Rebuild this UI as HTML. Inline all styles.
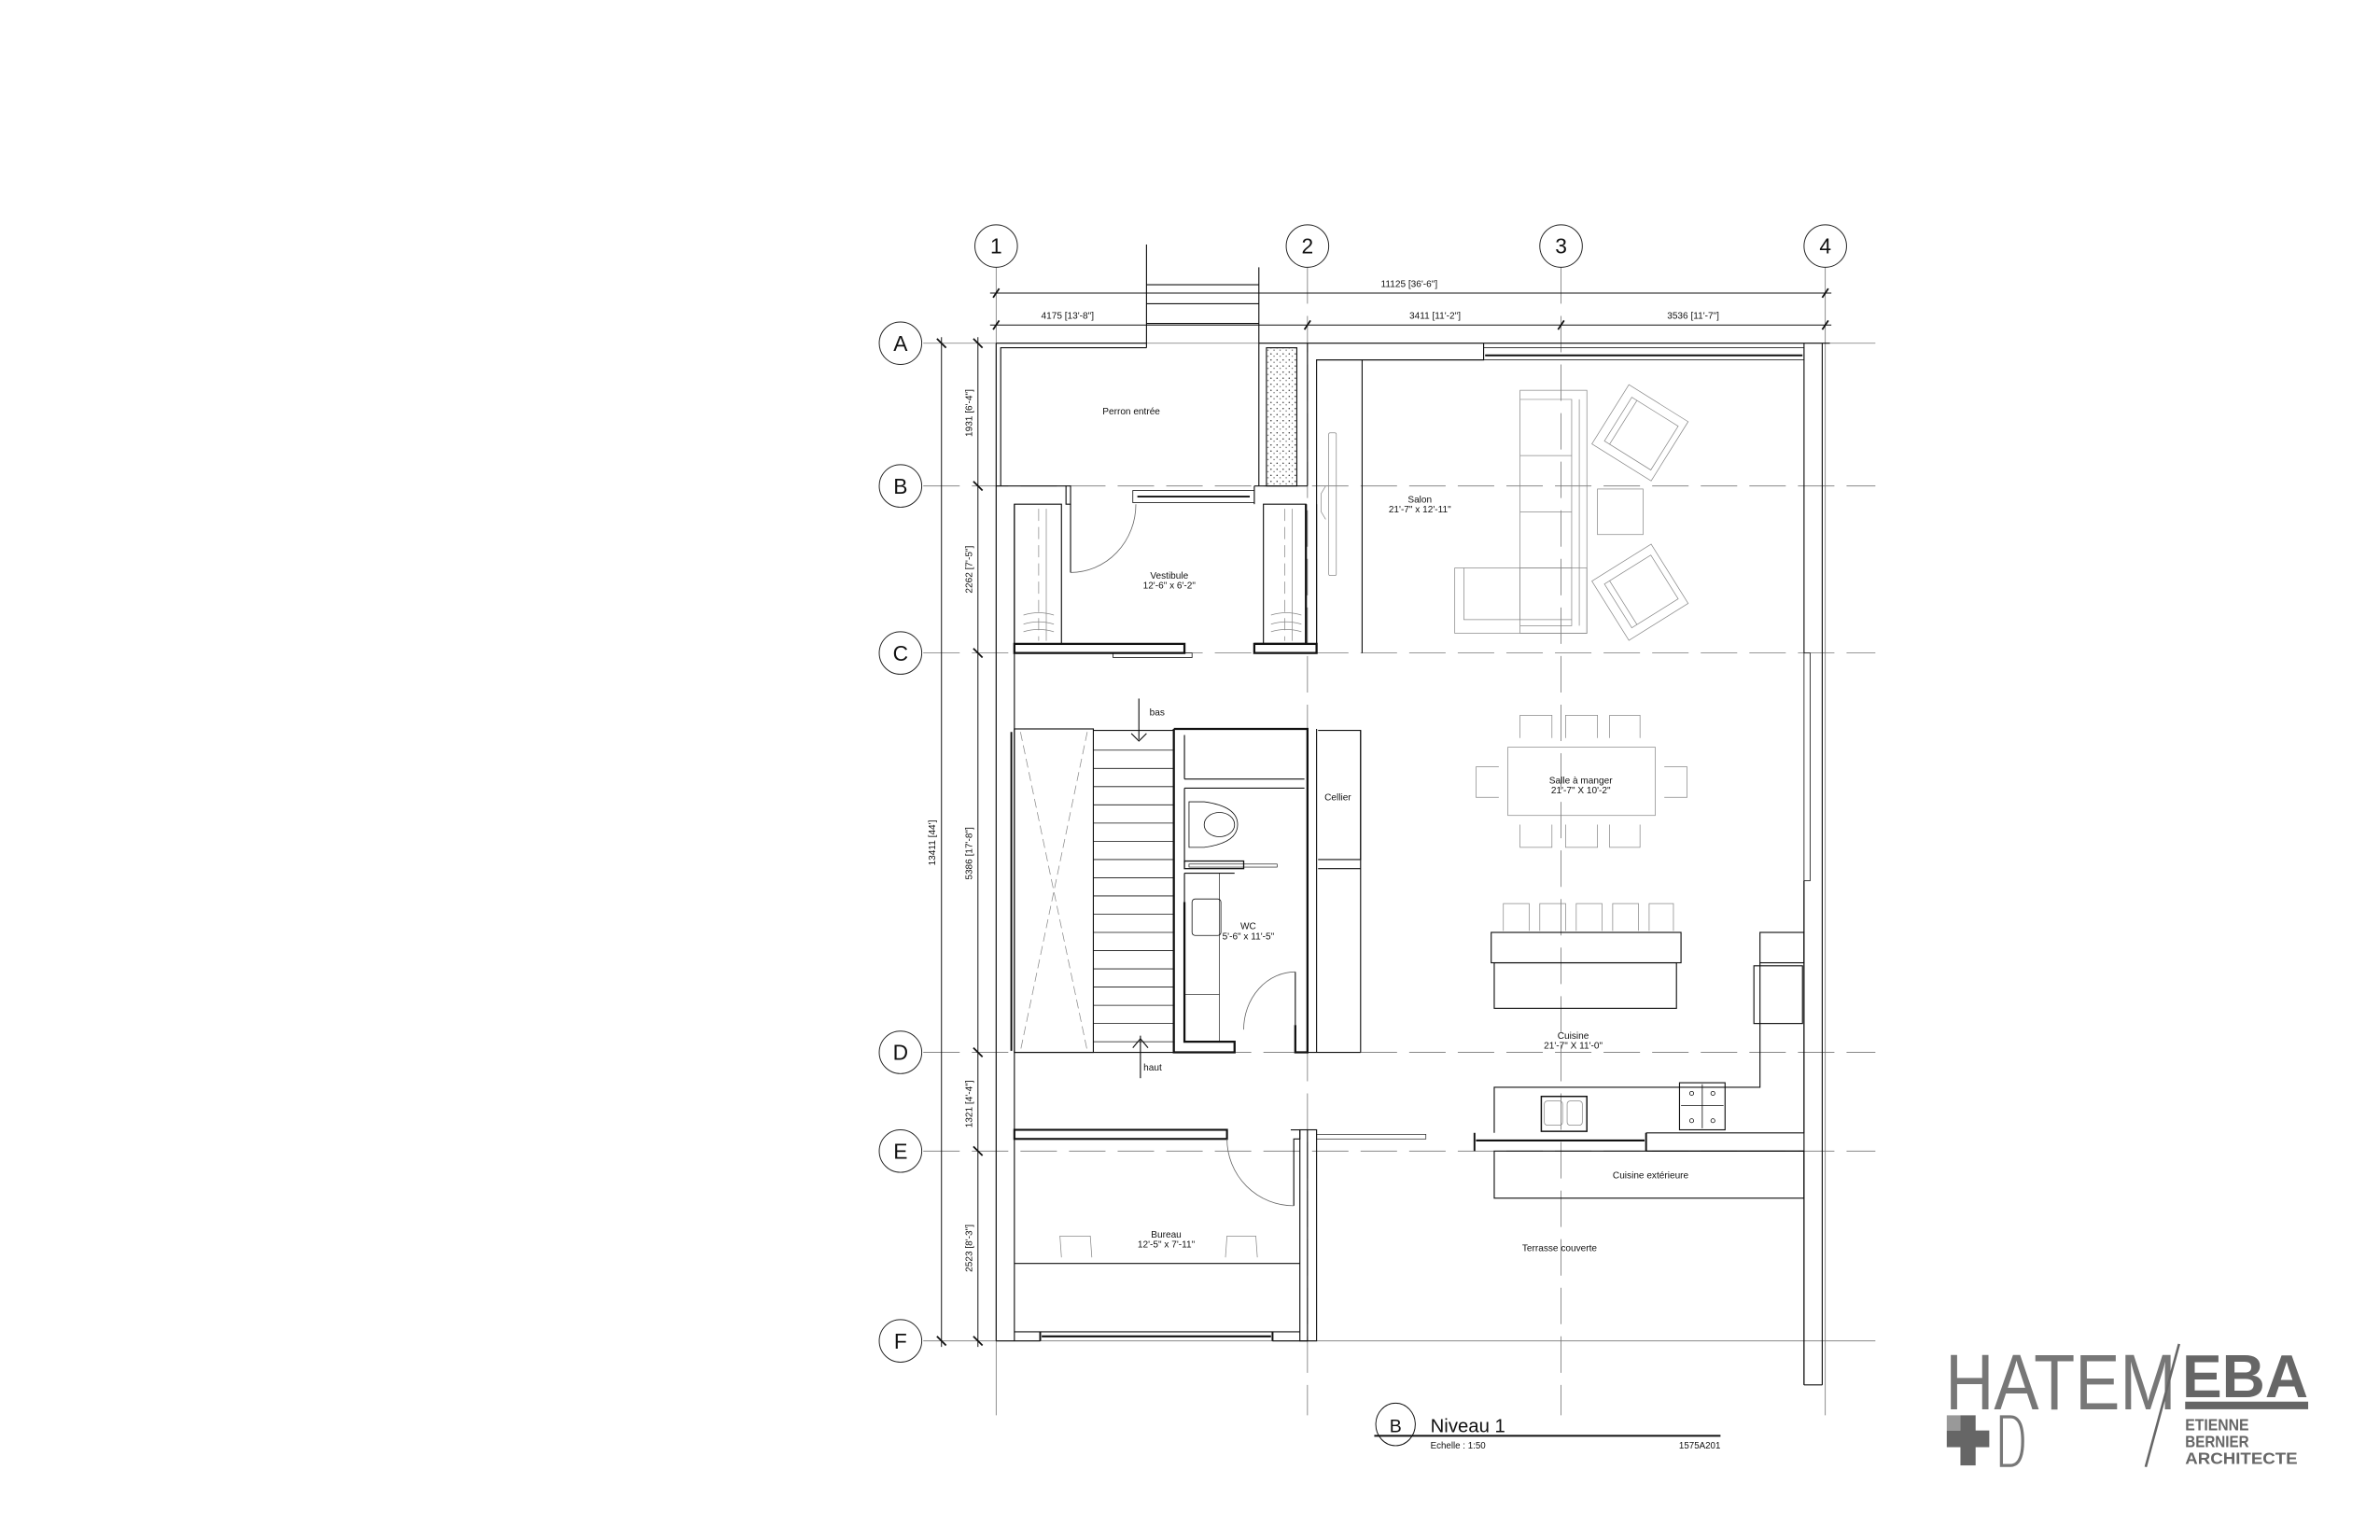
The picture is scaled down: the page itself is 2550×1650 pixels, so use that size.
<!DOCTYPE html>
<html><head><meta charset="utf-8"><style>
html,body{margin:0;padding:0;background:#fff;}
svg{display:block;}
text{font-family:"Liberation Sans",Arial,sans-serif;}
</style></head><body>
<svg width="2550" height="1650" viewBox="0 0 1567.3 1014.1" xmlns="http://www.w3.org/2000/svg">
<defs>
<pattern id="sp" width="4" height="4" patternUnits="userSpaceOnUse">
<rect width="4" height="4" fill="#fff"/><circle cx="1" cy="1" r="0.45" fill="#222"/><circle cx="3" cy="2.6" r="0.4" fill="#444"/>
</pattern>
</defs>
<g fill="none" stroke="#777" stroke-width="0.5">
<line x1="656" y1="176" x2="656" y2="932"/>
<line x1="861" y1="176" x2="861" y2="932" stroke-dasharray="24 8"/>
<line x1="1028" y1="176" x2="1028" y2="932" stroke-dasharray="24 8"/>
<line x1="1202" y1="176" x2="1202" y2="932"/>
<line x1="608" y1="226" x2="1235" y2="226"/>
<line x1="608" y1="320" x2="1235" y2="320" stroke-dasharray="24 8"/>
<line x1="608" y1="430" x2="1235" y2="430" stroke-dasharray="24 8"/>
<line x1="608" y1="693" x2="1235" y2="693" stroke-dasharray="24 8"/>
<line x1="608" y1="758" x2="1235" y2="758" stroke-dasharray="24 8"/>
<line x1="608" y1="883" x2="1235" y2="883"/>
</g>
<g fill="#fff" stroke="#222" stroke-width="0.6">
<ellipse cx="656" cy="162" rx="14" ry="14"/><ellipse cx="861" cy="162" rx="14" ry="14"/>
<ellipse cx="1028" cy="162" rx="14" ry="14"/><ellipse cx="1202" cy="162" rx="14" ry="14"/>
<ellipse cx="593" cy="226" rx="14" ry="14"/><ellipse cx="593" cy="320" rx="14" ry="14"/>
<ellipse cx="593" cy="430" rx="14" ry="14"/><ellipse cx="593" cy="693" rx="14" ry="14"/>
<ellipse cx="593" cy="758" rx="14" ry="14"/><ellipse cx="593" cy="883" rx="14" ry="14"/>
</g>
<g font-size="14" fill="#111" text-anchor="middle">
<text x="656" y="167">1</text><text x="861" y="167">2</text><text x="1028" y="167">3</text><text x="1202" y="167">4</text>
<text x="593" y="231">A</text><text x="593" y="325">B</text><text x="593" y="435">C</text>
<text x="593" y="698">D</text><text x="593" y="763">E</text><text x="593" y="888">F</text>
</g>
<g stroke="#111" stroke-width="0.6" fill="none">
<line x1="652" y1="193" x2="1206" y2="193"/><line x1="652" y1="214" x2="1206" y2="214"/>
<line x1="620" y1="222" x2="620" y2="887"/><line x1="644" y1="222" x2="644" y2="887"/>
<g stroke-width="1.1">
<line x1="654" y1="196" x2="658" y2="190"/><line x1="1200" y1="196" x2="1204" y2="190"/>
<line x1="654" y1="217" x2="658" y2="211"/><line x1="859" y1="217" x2="863" y2="211"/>
<line x1="1026" y1="217" x2="1030" y2="211"/><line x1="1200" y1="217" x2="1204" y2="211"/>
<line x1="617" y1="223" x2="623" y2="229"/><line x1="617" y1="880" x2="623" y2="886"/>
<line x1="641" y1="223" x2="647" y2="229"/><line x1="641" y1="317" x2="647" y2="323"/>
<line x1="641" y1="427" x2="647" y2="433"/><line x1="641" y1="690" x2="647" y2="696"/>
<line x1="641" y1="755" x2="647" y2="761"/><line x1="641" y1="880" x2="647" y2="886"/>
</g>
</g>
<g font-size="6.2" fill="#111" text-anchor="middle">
<text x="928" y="189">11125 [36'-6"]</text>
<text x="703" y="210">4175 [13'-8"]</text>
<text x="945" y="210">3411 [11'-2"]</text>
<text x="1115" y="210">3536 [11'-7"]</text>
<text transform="translate(616,555) rotate(-90)">13411 [44']</text>
<text transform="translate(640,272) rotate(-90)">1931 [6'-4"]</text>
<text transform="translate(640,375) rotate(-90)">2262 [7'-5"]</text>
<text transform="translate(640,562) rotate(-90)">5386 [17'-8"]</text>
<text transform="translate(640,727) rotate(-90)">1321 [4'-4"]</text>
<text transform="translate(640,822) rotate(-90)">2523 [8'-3"]</text>
</g>
<g stroke="#111" stroke-width="0.7" fill="none">
<line x1="755" y1="161" x2="755" y2="229"/><line x1="829" y1="176" x2="829" y2="226"/>
<line x1="755" y1="187.5" x2="829" y2="187.5"/><line x1="755" y1="200" x2="829" y2="200"/><line x1="755" y1="213" x2="829" y2="213"/>
<line x1="656" y1="226" x2="656" y2="883"/>
<polyline points="659,320 659,229 755,229"/>
<line x1="668" y1="332" x2="668" y2="883"/>
<line x1="656" y1="226" x2="755" y2="226"/>
<line x1="829" y1="226" x2="1205" y2="226"/>
<polyline points="867,430 867,237 977,237 977,226"/>
<line x1="897" y1="237" x2="897" y2="430"/>
<rect x="977" y="229" width="211" height="8" stroke-width="0.5"/>
<line x1="978" y1="234" x2="1187" y2="234" stroke-width="1.2"/>
<line x1="1188" y1="226" x2="1188" y2="430"/>
<line x1="1200" y1="226" x2="1200" y2="912"/>
<rect x="1188" y="430" width="4" height="150" stroke-width="0.5"/>
<line x1="1188" y1="580" x2="1188" y2="912"/><line x1="1188" y1="912" x2="1200" y2="912"/>
<rect x="834" y="229" width="20" height="91" fill="url(#sp)"/>
<line x1="829" y1="226" x2="829" y2="320"/><line x1="861" y1="226" x2="861" y2="320"/>
<line x1="656" y1="320" x2="702" y2="320"/><line x1="826" y1="320" x2="861" y2="320"/>
<rect x="702" y="320" width="3" height="12"/>
<rect x="746" y="323" width="80" height="8" stroke-width="0.5"/>
<line x1="749" y1="327" x2="823" y2="327" stroke-width="1.1"/>
<line x1="826" y1="320" x2="826" y2="332"/>
<rect x="668" y="332" width="31" height="92"/>
<rect x="832" y="332" width="28" height="92"/>
<path d="M860,332 V424 H826" stroke-width="1.4"/>
<line x1="867" y1="332" x2="867" y2="430"/>
<rect x="668" y="424" width="112" height="6" stroke-width="1.4"/>
<rect x="826" y="424" width="41" height="6" stroke-width="1.4"/>
<rect x="733" y="430" width="52" height="3" stroke-width="0.5"/>
<line x1="705" y1="332" x2="705" y2="377"/>
<path d="M748,332 A43,45 0 0 1 705,377" stroke="#666" stroke-width="0.5"/>
</g>
<g stroke="#888" stroke-width="0.45" fill="none">
<line x1="684" y1="335" x2="684" y2="422" stroke-dasharray="8 4"/>
<line x1="689" y1="335" x2="689" y2="422"/>
<line x1="846" y1="335" x2="846" y2="422" stroke-dasharray="8 4"/>
<line x1="851" y1="335" x2="851" y2="422"/>
<path d="M674,405 q10,-3 20,0 M674,411 q10,-3 20,0 M674,416 q10,-3 20,0"/>
<path d="M837,405 q10,-3 20,0 M837,411 q10,-3 20,0 M837,416 q10,-3 20,0"/>
<rect x="875" y="285" width="5" height="94" rx="1"/>
<path d="M873,320 l-3,5 v12 l3,5"/>
<rect x="1001" y="257" width="44" height="160"/>
<polyline points="1001,263 1035,263 1035,412 1001,412"/>
<line x1="1040" y1="263" x2="1040" y2="412"/>
<rect x="958" y="374" width="87" height="43"/>
<polyline points="964,374 964,408 1035,408"/>
<line x1="1001" y1="300" x2="1035" y2="300"/><line x1="1001" y1="337" x2="1035" y2="337"/><line x1="1001" y1="374" x2="1035" y2="374"/><line x1="1001" y1="374" x2="1001" y2="408"/>
<rect x="1052" y="322" width="30" height="30"/>
<g transform="translate(1080,285) rotate(32)"><rect x="-23" y="-23" width="46" height="46"/><rect x="-17" y="-17" width="36" height="34"/><line x1="-13" y1="-17" x2="-13" y2="17"/></g>
<g transform="translate(1080,390) rotate(-32)"><rect x="-23" y="-23" width="46" height="46"/><rect x="-17" y="-17" width="36" height="34"/><line x1="-13" y1="-17" x2="-13" y2="17"/></g>
<rect x="993" y="492" width="97" height="45"/>
<path d="M1001,486 v-15 h21 v15 M1031,486 v-15 h21 v15 M1060,486 v-15 h20 v15"/>
<path d="M1001,543 v15 h21 v-15 M1031,543 v15 h21 v-15 M1060,543 v15 h20 v-15"/>
<path d="M987,505 h-15 v20 h15 M1096,505 h15 v20 h-15"/>
<path d="M990,613 v-18 h17 v18 M1014,613 v-18 h17 v18 M1038,613 v-18 h17 v18 M1062,613 v-18 h17 v18 M1086,613 v-18 h16 v18"/>
<path d="M672,482 L716,692 M716,482 L672,692" stroke-dasharray="6 3"/>
<path d="M699,828 l-1,-14 h20 l1,14 M807,828 l1,-14 h19 l1,14"/>
<rect x="1017" y="725" width="12" height="16" rx="2"/><rect x="1032" y="725" width="10" height="16" rx="2"/>
</g>
<g stroke="#111" stroke-width="0.7" fill="none">
<rect x="668" y="480" width="52" height="213"/>
<line x1="666" y1="482" x2="666" y2="692" stroke-width="1.2"/>
<line x1="720" y1="481" x2="773" y2="481"/>
<line x1="720" y1="693" x2="773" y2="693"/>
<g stroke-width="0.5">
<line x1="720" y1="494" x2="773" y2="494"/><line x1="720" y1="506" x2="773" y2="506"/><line x1="720" y1="518" x2="773" y2="518"/>
<line x1="720" y1="530" x2="773" y2="530"/><line x1="720" y1="542" x2="773" y2="542"/><line x1="720" y1="554" x2="773" y2="554"/>
<line x1="720" y1="566" x2="773" y2="566"/><line x1="720" y1="578" x2="773" y2="578"/><line x1="720" y1="590" x2="773" y2="590"/>
<line x1="720" y1="602" x2="773" y2="602"/><line x1="720" y1="614" x2="773" y2="614"/><line x1="720" y1="626" x2="773" y2="626"/>
<line x1="720" y1="638" x2="773" y2="638"/><line x1="720" y1="650" x2="773" y2="650"/><line x1="720" y1="662" x2="773" y2="662"/>
<line x1="720" y1="674" x2="773" y2="674"/><line x1="720" y1="686" x2="773" y2="686"/>
</g>
<line x1="750" y1="460" x2="750" y2="487"/><path d="M745,483 l5,5 l5,-5" />
<line x1="751" y1="682" x2="751" y2="710"/><path d="M746,690 l5,-6 l5,6"/>
<path d="M773,480 H861 V693 H853 V675" stroke-width="1.4"/>
<path d="M773,480 V693 H813 V686 H780 V594" stroke-width="1.4"/>
<line x1="780" y1="484" x2="780" y2="513"/><line x1="780" y1="513" x2="859" y2="513"/>
<line x1="780" y1="519" x2="859" y2="519"/><line x1="780" y1="519" x2="780" y2="568"/>
<rect x="780" y="567" width="39" height="5" stroke-width="0.8"/>
<rect x="783" y="569" width="58" height="2" stroke-width="0.4"/>
<line x1="780" y1="575" x2="780" y2="686"/><line x1="780" y1="575" x2="813" y2="575"/>
<line x1="803" y1="575" x2="803" y2="686" stroke-width="0.4"/>
<line x1="780" y1="655" x2="803" y2="655" stroke-width="0.4"/>
<rect x="785" y="592" width="19" height="24" rx="2" stroke-width="0.5"/>
<path d="M783,528 h10 q22,3 22,15 q0,12 -22,15 h-10 z" stroke-width="0.5"/>
<ellipse cx="803" cy="543" rx="10" ry="8" stroke-width="0.5"/>
<line x1="853" y1="640" x2="853" y2="675"/>
<path d="M853,640 A34,38 0 0 0 819,678" stroke="#666" stroke-width="0.5"/>
<line x1="867" y1="480" x2="867" y2="693"/>
<path d="M868,481 H896 V566 H868"/><line x1="896" y1="481" x2="896" y2="693"/>
<path d="M868,572 H896"/><line x1="861" y1="693" x2="896" y2="693"/>
<rect x="982" y="614" width="125" height="20"/>
<rect x="984" y="634" width="120" height="30"/>
<rect x="1159" y="614" width="29" height="20"/>
<rect x="1155" y="636" width="32" height="38"/>
<polyline points="984,746 984,716 1159,716 1159,634"/>
<line x1="1188" y1="580" x2="1188" y2="746"/>
<rect x="1015" y="722" width="30" height="23" stroke-width="0.9"/>
<rect x="1106" y="713" width="30" height="31"/>
<g stroke-width="0.5"><circle cx="1114" cy="720" r="1.3"/><circle cx="1128" cy="720" r="1.3"/><circle cx="1114" cy="738" r="1.3"/><circle cx="1128" cy="738" r="1.3"/><line x1="1121" y1="714" x2="1121" y2="743"/><line x1="1107" y1="728" x2="1135" y2="728"/></g>
<rect x="668" y="744" width="140" height="6" stroke-width="1.3"/>
<path d="M850,744 H856 V750 H852 V794" />
<path d="M852,794 A44,44 0 0 1 808,750" stroke="#666" stroke-width="0.5"/>
<rect x="856" y="744" width="11" height="139" fill="none"/>
<line x1="861" y1="744" x2="861" y2="883"/>
<rect x="867" y="747" width="72" height="3" stroke-width="0.4"/>
<line x1="971" y1="746" x2="971" y2="758" stroke-width="1.2"/><line x1="1084" y1="746" x2="1084" y2="758" stroke-width="1.2"/>
<line x1="972" y1="751" x2="1083" y2="751" stroke-width="1.3"/>
<line x1="1084" y1="746" x2="1188" y2="746"/><line x1="1084" y1="758" x2="1188" y2="758"/>
<rect x="984" y="758" width="204" height="31"/>
<line x1="1188" y1="758" x2="1188" y2="912"/>
<line x1="668" y1="832" x2="856" y2="832"/>
<line x1="668" y1="877" x2="856" y2="877"/>
<line x1="656" y1="883" x2="685" y2="883"/><line x1="838" y1="883" x2="861" y2="883"/>
<line x1="685" y1="877" x2="685" y2="883" stroke-width="1.2"/><line x1="838" y1="877" x2="838" y2="883" stroke-width="1.2"/>
<line x1="686" y1="880" x2="837" y2="880" stroke-width="1.3"/>
<line x1="668" y1="693" x2="720" y2="693"/>
</g>
<g font-size="6.2" fill="#111" text-anchor="middle">
<text x="745" y="273">Perron entrée</text>
<text x="935" y="331">Salon</text><text x="935" y="337.5">21'-7" x 12'-11"</text>
<text x="770" y="381">Vestibule</text><text x="770" y="387.5">12'-6" x 6'-2"</text>
<text x="1041" y="516">Salle à manger</text><text x="1041" y="522.5">21'-7" X 10'-2"</text>
<text x="881" y="527">Cellier</text>
<text x="822" y="612">WC</text><text x="822" y="618.5">5'-6" x 11'-5"</text>
<text x="1036" y="684">Cuisine</text><text x="1036" y="690.5">21'-7" X 11'-0"</text>
<text x="1087" y="776">Cuisine extérieure</text>
<text x="1027" y="824">Terrasse couverte</text>
<text x="768" y="815">Bureau</text><text x="768" y="821.5">12'-5" x 7'-11"</text>
<text x="757" y="471" text-anchor="start">bas</text>
<text x="753" y="705" text-anchor="start">haut</text>
</g>
<ellipse cx="919" cy="938" rx="13" ry="14" fill="none" stroke="#111" stroke-width="0.6"/>
<text x="919" y="943" font-size="12" text-anchor="middle" fill="#111">B</text>
<text x="942" y="943" font-size="12.5" fill="#111">Niveau 1</text>
<line x1="905" y1="945.5" x2="1133" y2="945.5" stroke="#111" stroke-width="1.2"/>
<text x="942" y="954" font-size="6" fill="#111">Echelle : 1:50</text>
<text x="1133" y="954" font-size="6" fill="#111" text-anchor="end">1575A201</text>
<g fill="#666">
<text x="1281" y="928" font-size="52" textLength="152" lengthAdjust="spacingAndGlyphs" fill="#777">HATEM</text>
<line x1="1435" y1="885" x2="1413" y2="966" stroke="#666" stroke-width="1.6"/>
<text x="1437" y="920" font-size="40" font-weight="bold" textLength="83" lengthAdjust="spacingAndGlyphs">EBA</text>
<rect x="1439" y="923" width="81" height="5"/>
<text x="1439" y="942" font-size="11" font-weight="bold" textLength="42" lengthAdjust="spacingAndGlyphs">ETIENNE</text>
<text x="1439" y="953" font-size="11" font-weight="bold" textLength="42" lengthAdjust="spacingAndGlyphs">BERNIER</text>
<text x="1439" y="964" font-size="11" font-weight="bold" textLength="74" lengthAdjust="spacingAndGlyphs">ARCHITECTE</text>
<rect x="1282" y="942" width="28" height="11"/><rect x="1291" y="932" width="10" height="33"/>
<rect x="1282" y="932" width="9" height="10" fill="#999"/>
<path d="M1318,933 h6 q8,0 8,16 q0,16 -8,16 h-6 z" fill="none" stroke="#777" stroke-width="2"/>
</g>
</svg>
</body></html>
